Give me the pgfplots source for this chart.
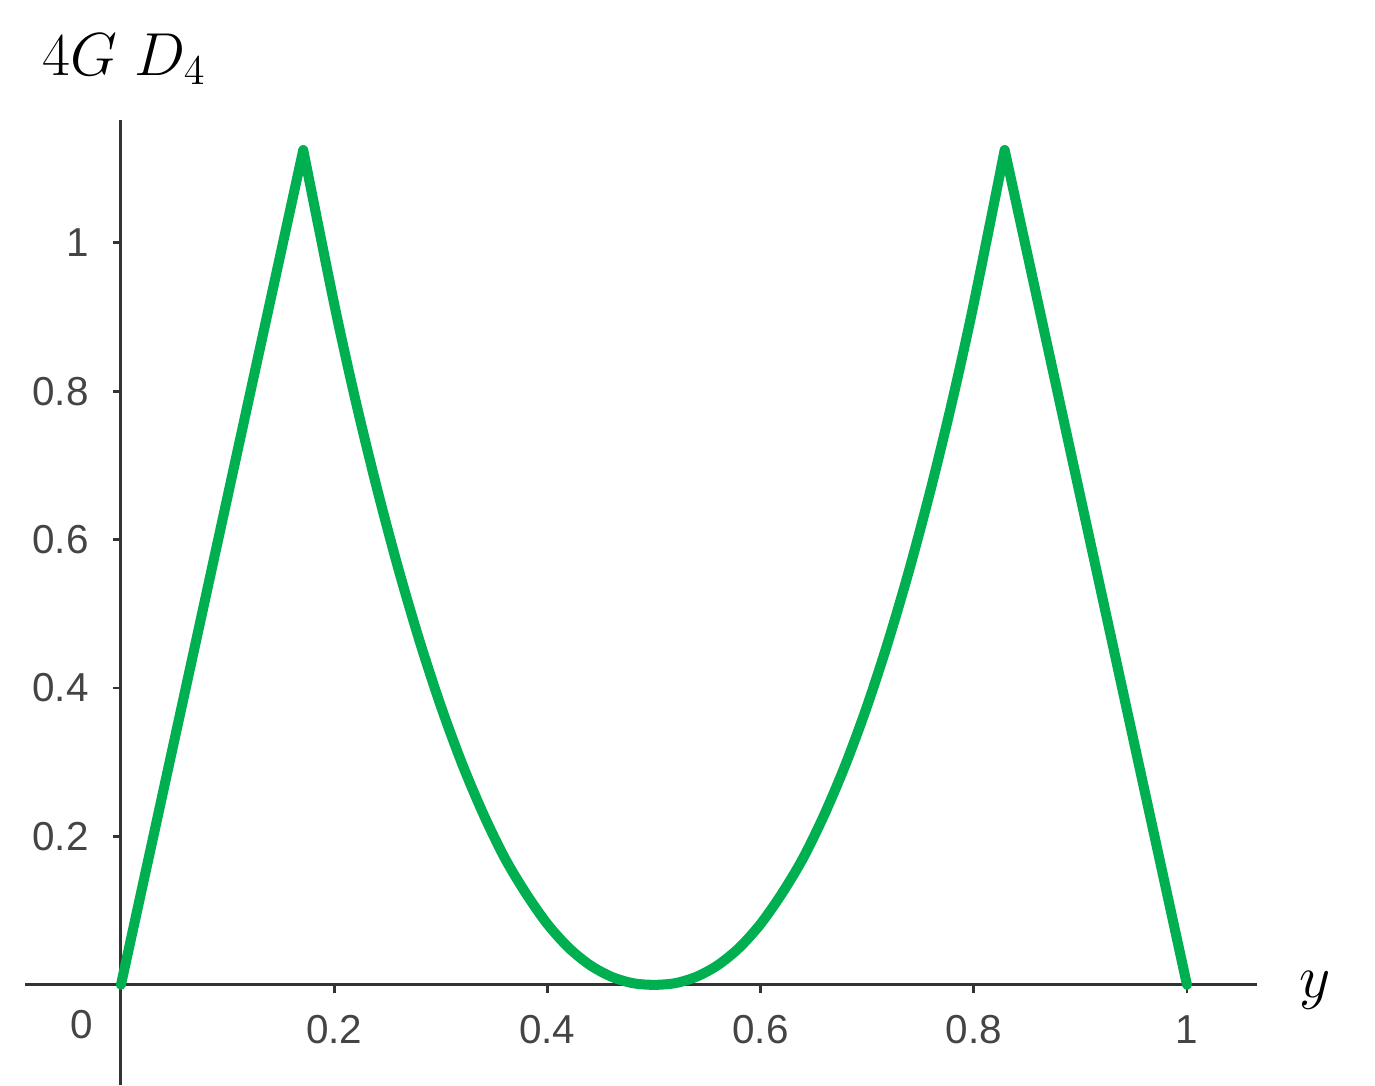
\documentclass[border=0pt]{standalone}
\usepackage{pgfplots}
\pgfplotsset{compat=1.18}
\usepackage{fontspec}
\setmainfont{Liberation Sans}
\definecolor{curvegreen}{HTML}{00B050}
\definecolor{axisgray}{HTML}{333333}
\definecolor{labelgray}{HTML}{444444}

\begin{document}
\begin{tikzpicture}
\useasboundingbox (-0.25,0) rectangle (13.5,10.85);
\begin{axis}[
    x=10.66cm, y=7.42cm,
    xmin=-0.09, xmax=1.066,
    ymin=-0.135, ymax=1.166,
    axis lines=middle,
    axis line style={-, axisgray, line width=0.85pt},
    xtick={0.2,0.4,0.6,0.8,1},
    ytick={0.2,0.4,0.6,0.8,1},
    xticklabels={0.2,0.4,0.6,0.8,1},
    yticklabels={0.2,0.4,0.6,0.8,1},
    tick align=outside,
    major tick length=0.08cm,
    tick style={axisgray, line width=0.8pt},
    ticklabel style={font=\fontsize{11.5}{13}\selectfont, text=labelgray},
    /pgf/number format/assume math mode=true,
    xticklabel style={yshift=-0.1cm},
    yticklabel style={xshift=-0.12cm},
    clip=false,
    curve/.style={curvegreen, line width=2.85pt, line join=round, line cap=round, mark=none},
]
% left linear rise
\addplot[curve] coordinates {(0,0) (0.171,1.125)};
% central trough
\addplot[curve, smooth] coordinates {
    (0.171,1.125)
    (0.20,0.918) (0.22,0.788) (0.24,0.670) (0.26,0.562) (0.28,0.464)
    (0.30,0.376) (0.32,0.298) (0.34,0.230) (0.36,0.171) (0.38,0.123)
    (0.40,0.082) (0.42,0.050) (0.44,0.0266) (0.46,0.011) (0.48,0.0023)
    (0.50,0)
    (0.52,0.0023) (0.54,0.011) (0.56,0.0266) (0.58,0.050) (0.60,0.082)
    (0.62,0.123) (0.64,0.171) (0.66,0.230) (0.68,0.298) (0.70,0.376)
    (0.72,0.464) (0.74,0.562) (0.76,0.670) (0.78,0.788) (0.80,0.918)
    (0.829,1.125)
};
% right linear fall
\addplot[curve] coordinates {(0.829,1.125) (1,0)};
\node[font=\fontsize{11.5}{13}\selectfont, text=labelgray] at (axis cs:-0.037,-0.054) {0};
\node[anchor=base west, inner sep=0pt] at (axis cs:-0.074,1.226) {\fontsize{17}{20}\selectfont$4G\;D_4$};
\node[inner sep=0pt] at (axis cs:1.12,-0.007) {\fontsize{18}{20}\selectfont$y$};
\end{axis}
\end{tikzpicture}
\end{document}
